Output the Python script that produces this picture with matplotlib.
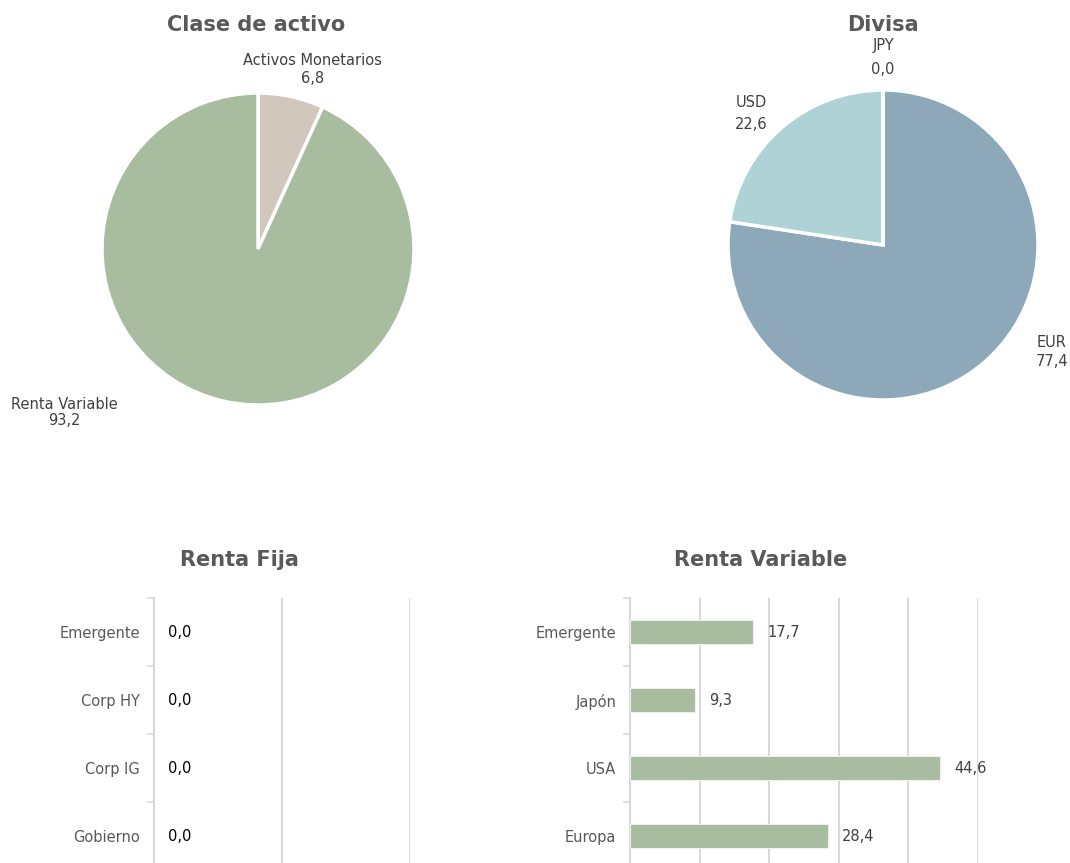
import matplotlib.pyplot as plt
import numpy as np

W, H = 1070, 863

# data
clase_labels = ['Activos Monetarios', 'Renta Variable']
clase_values = [6.8, 93.2]
divisa_labels = ['EUR', 'USD', 'JPY']
divisa_values = [77.4, 22.6, 0.0]
rf_labels = ['Gobierno', 'Corp IG', 'Corp HY', 'Emergente']
rf_values = [0.0, 0.0, 0.0, 0.0]
rv_labels = ['Europa', 'USA', 'Japón', 'Emergente']
rv_values = [28.4, 44.6, 9.3, 17.7]

TITLE_C = '#595959'
TEXT_C = '#404040'
GRID_C = '#d9d9d9'
GREEN = '#a8bc9f'


def fmt(v):
    return f'{v:.1f}'.replace('.', ',')


def px_axes(fig, left, top, width, height):
    # axes placed with pixel coordinates measured from the top-left corner
    return fig.add_axes([left / W, 1 - (top + height) / H, width / W, height / H])


fig = plt.figure(figsize=(W / 100, H / 100), dpi=100)

for txt, x, y in [('Clase de activo', 256, 25), ('Divisa', 883, 25),
                  ('Renta Fija', 239, 560), ('Renta Variable', 761, 560)]:
    fig.text(x / W, 1 - y / H, txt, ha='center', va='center',
             fontsize=15, fontweight='bold', color=TITLE_C)

# pie 1
r1 = 156
ax1 = px_axes(fig, 258 - r1, 249 - r1, 2 * r1, 2 * r1)
ax1.pie(clase_values, colors=['#d2c7bd', GREEN], startangle=90, counterclock=False,
        wedgeprops=dict(edgecolor='white', linewidth=2.5), radius=1)
ax1.set_xlim(-1, 1)
ax1.set_ylim(-1, 1)
ax1.set_axis_off()
pos1 = [(0.35, 1.15, 1.2), (-1.24, -1.05, 1.05)]
for lab, v, (x, y, ls) in zip(clase_labels, clase_values, pos1):
    ax1.text(x, y, f'{lab}\n{fmt(v)}', ha='center', va='center', fontsize=10.5,
             color=TEXT_C, linespacing=ls, clip_on=False)

# pie 2
r2 = 155
ax2 = px_axes(fig, 883 - r2, 245 - r2, 2 * r2, 2 * r2)
ax2.pie(divisa_values, colors=['#8da9b9', '#aed2d5', '#c9d6df'], startangle=90,
        counterclock=False, wedgeprops=dict(edgecolor='white', linewidth=2.5), radius=1)
ax2.set_xlim(-1, 1)
ax2.set_ylim(-1, 1)
ax2.set_axis_off()
pos2 = [(1.09, -0.69, 1.4), (-0.85, 0.85, 1.6), (0.0, 1.21, 1.7)]
for lab, v, (x, y, ls) in zip(divisa_labels, divisa_values, pos2):
    ax2.text(x, y, f'{lab}\n{fmt(v)}', ha='center', va='center', fontsize=10.5,
             color=TEXT_C, linespacing=ls, clip_on=False)


def bar_panel(ax, labels, values, xmax, step, val_color):
    y = np.arange(len(labels))
    lw = [0.8 if v > 0 else 0 for v in values]
    ax.barh(y, values, height=0.35, color=GREEN, edgecolor='#eef2ec', linewidth=lw,
            zorder=3)
    ax.set_xlim(0, xmax)
    ax.set_ylim(-0.5, len(labels) - 0.5)
    ax.set_xticks(np.arange(0, xmax + step / 2, step))
    ax.xaxis.grid(True, color=GRID_C, linewidth=1.5)
    ax.tick_params(axis='x', length=0, labelbottom=False)
    ax.set_yticks(y)
    ax.set_yticklabels(labels, fontsize=10.5, color='#595959')
    ax.tick_params(axis='y', which='major', length=0, pad=10)
    ax.set_yticks(np.arange(-0.5, len(labels)), minor=True)
    ax.tick_params(axis='y', which='minor', length=5, color=GRID_C, width=1.2)
    for s in ['top', 'right', 'bottom']:
        ax.spines[s].set_visible(False)
    ax.spines['left'].set_color(GRID_C)
    ax.spines['left'].set_linewidth(1.5)
    ax.set_axisbelow(True)
    # value labels, ~14 px right of the bar end
    off = xmax * 14 / (ax.get_position().width * W)
    for yi, v in zip(y, values):
        ax.text(v + off, yi, fmt(v), ha='left', va='center', fontsize=10.5,
                color=val_color, clip_on=False)


ax3 = px_axes(fig, 154, 598, 256, 272)
bar_panel(ax3, rf_labels, rf_values, 2, 1, 'black')

ax4 = px_axes(fig, 630, 598, 348, 272)
bar_panel(ax4, rv_labels, rv_values, 50, 10, TEXT_C)

fig.savefig('out.png', dpi=100)
